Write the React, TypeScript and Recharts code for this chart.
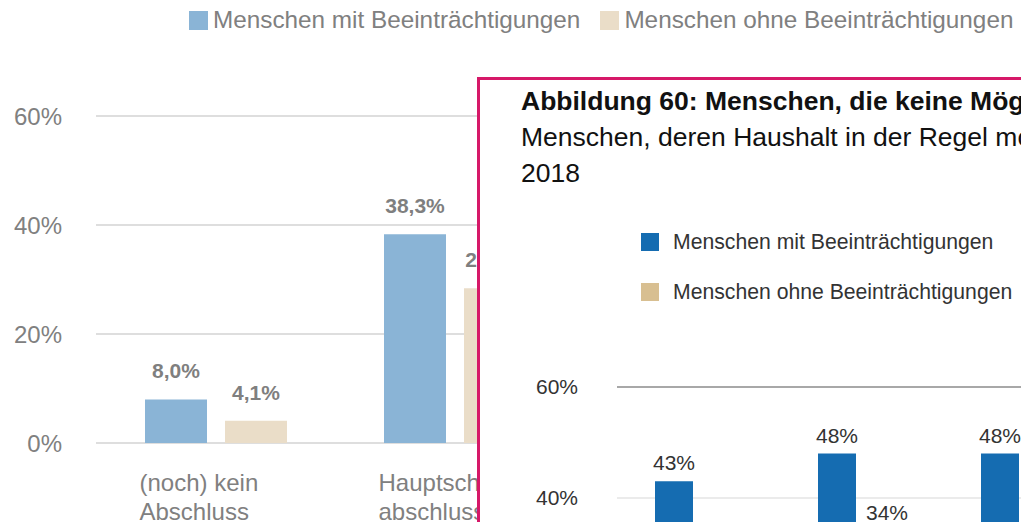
import React from 'react';
import { BarChart, Bar, XAxis, YAxis, CartesianGrid, LabelList, Legend, ReferenceLine } from 'recharts';

const FONT = '"Liberation Sans", Arial, Helvetica, sans-serif';

// ---------- background chart data ----------
const bgCategories = ['(noch) kein Abschluss', 'Hauptschulabschluss'];
const bgTickLines = [['(noch) kein', 'Abschluss'], ['Hauptschul-', 'abschluss']];
const bgWith = [8.0, 38.3];
const bgWithout = [4.1, 28.4];
const seriesNames = ['Menschen mit Beeinträchtigungen', 'Menschen ohne Beeinträchtigungen'];
const bgColors = ['#8AB4D6', '#EADDC8'];
const bgTicks = [0, 20, 40, 60];

// ---------- overlay (inset) chart data ----------
const ovTitle = 'Abbildung 60: Menschen, die keine Möglichkeit haben';
const ovSubtitle = ['Menschen, deren Haushalt in der Regel monatlich', '2018'];
const ovCategories = ['Gruppe 1', 'Gruppe 2', 'Gruppe 3'];
const ovWith: (number | null)[] = [43, 48, 48];
const ovWithout: (number | null)[] = [null, 34, null];
const ovColors = ['#156CB1', '#D8BF91'];
const ovTicks = [0, 20, 40, 60];

const bgData = bgCategories.map((c, i) => ({ cat: c, mit: bgWith[i], ohne: bgWithout[i] }));
const ovData = ovCategories.map((c, i) => ({ cat: c, mit: ovWith[i], ohne: ovWithout[i] }));

const fmtDe = (v: any) => (v == null ? '' : Number(v).toFixed(1).replace('.', ',') + '%');
const fmtInt = (v: any) => (v == null ? '' : Math.round(Number(v)) + '%');

const BgXTick = (props: any) => {
  const { x, y, payload } = props;
  const idx = bgCategories.indexOf(payload.value);
  const lines = bgTickLines[idx] || [payload.value];
  return (
    <text fill="#808080" fontSize={24} fontFamily={FONT} textAnchor="start">
      {lines.map((l, i) => (
        <tspan key={i} x={x - 76} y={y + 46 + i * 29}>
          {l}
        </tspan>
      ))}
    </text>
  );
};

const BgLegend = () => (
  <div style={{ display: 'flex', alignItems: 'center', height: 30, fontFamily: FONT, fontSize: 24.3, color: '#808080', whiteSpace: 'nowrap' }}>
    {seriesNames.map((n, i) => (
      <div key={n} style={{ display: 'flex', alignItems: 'center', marginRight: 20 }}>
        <div style={{ width: 19, height: 19, background: bgColors[i], marginRight: 5 }} />
        <span>{n}</span>
      </div>
    ))}
  </div>
);

const OvLegend = () => (
  <div style={{ height: 80, fontFamily: FONT, fontSize: 21.2, color: '#333333', whiteSpace: 'nowrap' }}>
    {seriesNames.map((n, i) => (
      <div key={n} style={{ display: 'flex', alignItems: 'center', height: 24, marginBottom: 26 }}>
        <div style={{ width: 18, height: 18, background: ovColors[i], marginRight: 14 }} />
        <span>{n}</span>
      </div>
    ))}
  </div>
);

export default function App() {
  return (
    <div style={{ position: 'fixed', left: 0, top: 0, width: 1021, height: 522, overflow: 'hidden', background: '#ffffff' }}>
      <BarChart
        width={1021}
        height={522}
        data={bgData}
        margin={{ top: 86, right: 0, bottom: 0, left: 0 }}
        barSize={62}
        barGap={18}
      >
        <Legend
          verticalAlign="top"
          layout="horizontal"
          content={<BgLegend />}
          wrapperStyle={{ top: 5, left: 189, width: 832, height: 30 }}
        />
        <CartesianGrid horizontal vertical={false} stroke="#DEDEDE" strokeWidth={2} />
        <XAxis
          dataKey="cat"
          axisLine={false}
          tickLine={false}
          tickSize={0}
          height={79}
          interval={0}
          padding={{ left: 0, right: 447 }}
          tick={<BgXTick />}
        />
        <YAxis
          domain={[0, 60]}
          ticks={bgTicks}
          width={96}
          axisLine={false}
          tickLine={false}
          tickSize={0}
          tickMargin={34}
          tickFormatter={(v: number) => v + '%'}
          tick={{ fill: '#808080', fontSize: 24, fontFamily: FONT }}
        />
        <Bar dataKey="mit" name={seriesNames[0]} fill={bgColors[0]} isAnimationActive={false}>
          <LabelList dataKey="mit" position="top" offset={21} formatter={fmtDe} fill="#7F7F7F" fontSize={21} fontWeight="bold" fontFamily={FONT} />
        </Bar>
        <Bar dataKey="ohne" name={seriesNames[1]} fill={bgColors[1]} isAnimationActive={false}>
          <LabelList dataKey="ohne" position="top" offset={21} formatter={fmtDe} fill="#7F7F7F" fontSize={21} fontWeight="bold" fontFamily={FONT} />
        </Bar>
      </BarChart>

      <div
        style={{
          position: 'absolute',
          left: 477,
          top: 77,
          width: 580,
          height: 520,
          boxSizing: 'border-box',
          border: '3px solid #D61868',
          background: '#ffffff',
          overflow: 'hidden',
        }}
      >
        <div
          style={{
            position: 'absolute',
            left: 41,
            top: 3,
            fontFamily: FONT,
            fontSize: 26.5,
            lineHeight: '36px',
            color: '#111111',
            whiteSpace: 'nowrap',
          }}
        >
          <div style={{ fontWeight: 'bold' }}>{ovTitle}</div>
          {ovSubtitle.map((s) => (
            <div key={s}>{s}</div>
          ))}
        </div>
        <div style={{ position: 'absolute', left: 0, top: 0 }}>
          <BarChart
            width={626}
            height={700}
            data={ovData}
            margin={{ top: 227, right: 0, bottom: 60, left: 0 }}
            barSize={38}
            barGap={12}
          >
            <Legend
              verticalAlign="top"
              layout="horizontal"
              content={<OvLegend />}
              wrapperStyle={{ top: 150, left: 161, width: 420, height: 80 }}
            />
            <CartesianGrid horizontal vertical={false} stroke="#E4E4E4" strokeWidth={1.5} />
            <ReferenceLine y={60} stroke="#A8A8A8" strokeWidth={2} />
            <XAxis dataKey="cat" hide />
            <YAxis
              domain={[0, 60]}
              ticks={ovTicks}
              width={137}
              axisLine={false}
              tickLine={false}
              tickSize={0}
              tickMargin={39}
              tickFormatter={(v: number) => v + '%'}
              tick={{ fill: '#333333', fontSize: 21, fontFamily: FONT }}
            />
            <Bar dataKey="mit" name={seriesNames[0]} fill={ovColors[0]} isAnimationActive={false}>
              <LabelList dataKey="mit" position="top" offset={11} formatter={fmtInt} fill="#333333" fontSize={21} fontFamily={FONT} />
            </Bar>
            <Bar dataKey="ohne" name={seriesNames[1]} fill={ovColors[1]} isAnimationActive={false}>
              <LabelList dataKey="ohne" position="top" offset={11} formatter={fmtInt} fill="#333333" fontSize={21} fontFamily={FONT} />
            </Bar>
          </BarChart>
        </div>
      </div>
    </div>
  );
}
